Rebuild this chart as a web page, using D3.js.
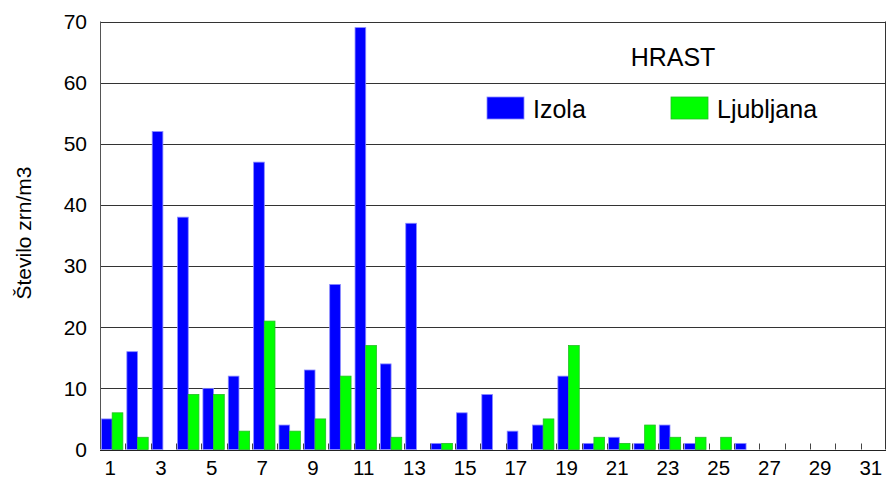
<!DOCTYPE html>
<html>
<head>
<meta charset="utf-8">
<script src="https://cdn.jsdelivr.net/npm/d3@7"></script>
<style>
  html, body { margin: 0; padding: 0; background: #fff; }
  svg { display: block; font-family: "Liberation Sans", Arial, sans-serif; }
</style>
</head>
<body>
<svg id="chart" width="887" height="479"></svg>
<script>
// Days of the month
const days = d3.range(1, 32);
// Pollen counts (grains per m3) for oak
const izola     = [5, 16, 52, 38, 10, 12, 47, 4, 13, 27, 69, 14, 37, 1, 6, 9, 3, 4, 12, 1, 2, 1, 4, 1, 0, 1, 0, 0, 0, 0, 0];
const ljubljana = [6, 2, 0, 9, 9, 3, 21, 3, 5, 12, 17, 2, 0, 1, 0, 0, 0, 5, 17, 2, 1, 4, 2, 2, 2, 0, 0, 0, 0, 0, 0];
const seriesNames = ["Izola", "Ljubljana"];
const seriesColors = ["#0000ff", "#00ff00"];
const seriesStroke = ["#8a8aff", "#22c022"];
const yTicks = [0, 10, 20, 30, 40, 50, 60, 70];
const xLabels = days.filter(d => d % 2 === 1);
const title = "HRAST";
const yTitle = "Število zrn/m3";

const svg = d3.select("#chart");
const margin = { left: 100, right: 1, top: 21.5, bottom: 29.5 };
const W = 887, H = 479;
const x0 = margin.left, x1 = W - margin.right;
const yTop = margin.top, yBot = H - margin.bottom;

const x = d3.scaleBand().domain(days).range([x0, x1]).paddingInner(0).paddingOuter(0);
const xs = d3.scaleBand().domain(seriesNames)
  .range([1.5, x.bandwidth() - 2.5]).padding(0);
const y = d3.scaleLinear().domain([0, 70]).range([yBot, yTop]);

// Gridlines
svg.append("g").selectAll("line").data(yTicks.filter(t => t > 0)).join("line")
  .attr("x1", x0).attr("x2", x1)
  .attr("y1", d => Math.round(y(d)) + 0.5).attr("y2", d => Math.round(y(d)) + 0.5)
  .attr("stroke", "#333").attr("stroke-width", 1);

// Bars
const data = days.map((d, i) => ({ day: d, vals: [izola[i], ljubljana[i]] }));
const groups = svg.append("g").selectAll("g").data(data).join("g")
  .attr("transform", d => `translate(${x(d.day)},0)`);
groups.selectAll("rect")
  .data(d => d.vals.map((v, j) => ({ v, j })).filter(e => e.v > 0))
  .join("rect")
  .attr("x", e => xs(seriesNames[e.j]))
  .attr("width", xs.bandwidth())
  .attr("y", e => y(e.v))
  .attr("height", e => yBot - y(e.v))
  .attr("fill", e => seriesColors[e.j])
  .attr("stroke", e => seriesStroke[e.j])
  .attr("stroke-width", 0.8);

// Frame: left axis, bottom axis, right edge
svg.append("line").attr("x1", x0 + 0.5).attr("x2", x0 + 0.5).attr("y1", yTop).attr("y2", yBot)
  .attr("stroke", "#555").attr("stroke-width", 1);
svg.append("line").attr("x1", x1 - 0.5).attr("x2", x1 - 0.5).attr("y1", yTop).attr("y2", yBot)
  .attr("stroke", "#333").attr("stroke-width", 1);
svg.append("line").attr("x1", x0).attr("x2", x1).attr("y1", Math.round(yBot) + 0.5).attr("y2", Math.round(yBot) + 0.5)
  .attr("stroke", "#222").attr("stroke-width", 1.2);

// Category boundary ticks on the x axis
svg.append("g").selectAll("line").data(days.slice(1)).join("line")
  .attr("x1", d => Math.round(x(d)) + 0.5).attr("x2", d => Math.round(x(d)) + 0.5)
  .attr("y1", yBot - 6).attr("y2", yBot)
  .attr("stroke", "#444").attr("stroke-width", 1);

// Y tick labels
svg.append("g").selectAll("text").data(yTicks).join("text")
  .attr("x", 87).attr("y", d => y(d)).attr("dy", "0.35em")
  .attr("text-anchor", "end").attr("font-size", 21).attr("fill", "#000")
  .text(d => d);

// X tick labels
svg.append("g").selectAll("text").data(xLabels).join("text")
  .attr("x", d => x(d) + x.bandwidth() / 2 - 2.5).attr("y", 474.5)
  .attr("text-anchor", "middle").attr("font-size", 20.5).attr("fill", "#000")
  .text(d => d);

// Y axis title
svg.append("text")
  .attr("transform", `translate(31,233) rotate(-90)`)
  .attr("text-anchor", "middle").attr("font-size", 21).attr("fill", "#000")
  .text(yTitle);

// Chart title
svg.append("text").attr("x", 673).attr("y", 65.5)
  .attr("text-anchor", "middle").attr("font-size", 25).attr("fill", "#000")
  .text(title);

// Legend
const legendX = [487, 671];
const lg = svg.append("g").selectAll("g").data(seriesNames).join("g")
  .attr("transform", (d, i) => `translate(${legendX[i]},97)`);
lg.append("rect").attr("width", 37).attr("height", 22)
  .attr("fill", (d, i) => seriesColors[i]).attr("stroke", (d, i) => seriesStroke[i]).attr("stroke-width", 0.8);
lg.append("text").attr("x", 46).attr("y", 20.5)
  .attr("font-size", 25).attr("fill", "#000").text(d => d);
</script>
</body>
</html>
